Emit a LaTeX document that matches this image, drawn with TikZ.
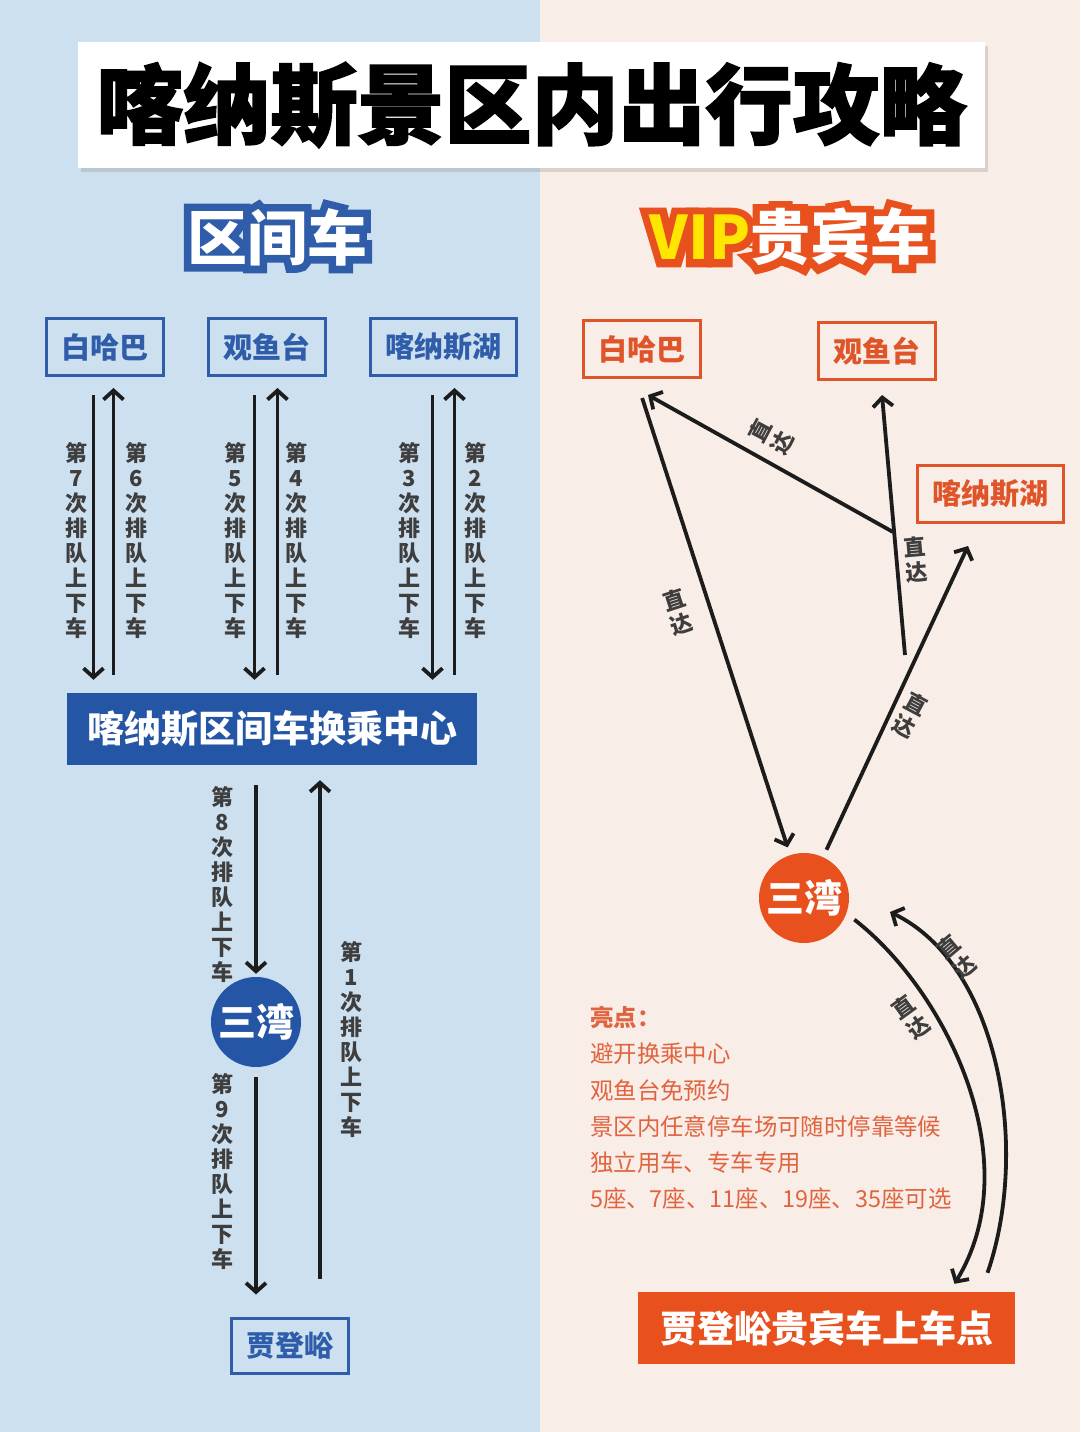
\documentclass[tikz,border=0pt]{standalone}
\usepackage{fontspec}
\usepackage{xcolor}
\usepackage{tikz}
\usetikzlibrary{arrows.meta,calc,shadows,positioning}
\newfontfamily\cjk{Noto Sans CJK SC}
\newfontfamily\cjkol[FakeBold=25]{Noto Sans CJK SC}
\newfontfamily\cjkhv[FakeBold=2]{Noto Sans CJK SC}
\definecolor{bgl}{HTML}{CDE0F0}
\definecolor{bgr}{HTML}{F9EDE7}
\definecolor{bluel}{HTML}{2F5DAA}
\definecolor{bluef}{HTML}{2456A5}
\definecolor{redr}{HTML}{E0542A}
\definecolor{redf}{HTML}{E8501E}
\definecolor{redt}{HTML}{E0643F}
\definecolor{vipy}{HTML}{FFE600}
\definecolor{ink}{HTML}{1C1C1C}
\tikzstyle{arr}=[draw=ink,line width=3.8pt,-{Straight Barb[length=9pt,width=20pt]}]
\tikzstyle{stopl}=[draw=bluel,line width=3pt,text=bluel,inner xsep=15pt,minimum height=57pt,font=\cjk\bfseries\fontsize{29}{29}\selectfont]
\tikzstyle{stopr}=[stopl,draw=redr,text=redr]
\tikzstyle{lbl}=[align=center,inner sep=0pt,text=ink!85,font=\cjk\bfseries\fontsize{22}{25}\selectfont]
\newcommand{\paidui}[1]{第\\#1\\次\\排\\队\\上\\下\\车}
\newcommand{\zhida}{直\\达}

\begin{document}
\begin{tikzpicture}[x=1pt,y=-1pt,font=\cjk]
\fill[bgl] (0,0) rectangle (540,1432);
\fill[bgr] (540,0) rectangle (1080,1432);
\useasboundingbox (0,0) rectangle (1080,1432);
\node[fill=white,minimum width=907pt,minimum height=126pt,drop shadow={opacity=0.25,shadow xshift=3pt,shadow yshift=-4pt},font=\cjkhv\bfseries\fontsize{87}{87}\selectfont](one) at (531.5,105){喀纳斯景区内出行攻略};
\node[text=bluel,font=\cjkol\bfseries\fontsize{60}{60}\selectfont](two) at (277,237){区间车};
\node[text=white,font=\cjk\bfseries\fontsize{60}{60}\selectfont](three) at (277,237){区间车};
\node[text=redf,font=\cjkol\bfseries\fontsize{60}{60}\selectfont](four) at (790,237){VIP贵宾车};
\node[text=white,font=\cjk\bfseries\fontsize{60}{60}\selectfont](five) at (790,237){\textcolor{vipy}{VIP}贵宾车};
% left side
\node[stopl](six) at (104.5,347){白哈巴};
\node[stopl](seven) at (266.5,347){观鱼台};
\node[stopl](eight) at (443.5,347){喀纳斯湖};
\node[fill=bluef,text=white,minimum width=410pt,minimum height=72pt,font=\cjk\bfseries\fontsize{37}{37}\selectfont](nine) at (272,729){喀纳斯区间车换乘中心};
\draw[arr,shorten <=18pt,shorten >=13pt] ([xshift=-11pt]six.south) -- ([xshift=-11pt]nine.north -| six.south);
\draw[arr,shorten <=18pt,shorten >=11pt] ([xshift=9pt]nine.north -| six.south) -- ([xshift=9pt]six.south);
\draw[arr,shorten <=18pt,shorten >=13pt] ([xshift=-12pt]seven.south) -- ([xshift=-12pt]nine.north -| seven.south);
\draw[arr,shorten <=18pt,shorten >=11pt] ([xshift=11pt]nine.north -| seven.south) -- ([xshift=11pt]seven.south);
\draw[arr,shorten <=18pt,shorten >=13pt] ([xshift=-11pt]eight.south) -- ([xshift=-11pt]nine.north -| eight.south);
\draw[arr,shorten <=18pt,shorten >=11pt] ([xshift=11pt]nine.north -| eight.south) -- ([xshift=11pt]eight.south);
\node[lbl](ten) at (76.5,541){\paidui{7}};
\node[lbl](eleven) at (136,541){\paidui{6}};
\node[lbl](twelve) at (235,541){\paidui{5}};
\node[lbl](thirteen) at (296.5,541){\paidui{4}};
\node[lbl](fourteen) at (409,541){\paidui{3}};
\node[lbl](fifteen) at (475,541){\paidui{2}};
\node[circle,fill=bluef,text=white,minimum size=90pt,inner sep=0pt,font=\cjk\bfseries\fontsize{38}{38}\selectfont](sixteen) at (256,1022){三湾};
\node[stopl,minimum height=55pt](seventeen) at (289.5,1345.5){贾登峪};
\draw[arr,shorten <=20pt,shorten >=3pt] (nine.south -| sixteen) -- (sixteen);
\draw[arr,shorten <=10pt,shorten >=22pt] (sixteen) -- (sixteen |- seventeen.north);
\draw[arr,shorten <=38pt,shorten >=15pt] ([xshift=30.5pt]seventeen.north) -- ([xshift=30.5pt]nine.south -| seventeen.north);
\node[lbl](eighteen) at (222,885){\paidui{8}};
\node[lbl](nineteen) at (222,1172){\paidui{9}};
\node[lbl](twenty) at (351,1040){\paidui{1}};
% right side
\node[stopr](twentyone) at (642,349){白哈巴};
\node[stopr](twentytwo) at (877,351){观鱼台};
\node[stopr](twentythree) at (990,494){喀纳斯湖};
\node[circle,fill=redf,text=white,minimum size=90pt,inner sep=0pt,font=\cjk\bfseries\fontsize{38}{38}\selectfont](twentyfour) at (804,898){三湾};
\node[fill=redf,text=white,minimum width=377pt,minimum height=72pt,font=\cjk\bfseries\fontsize{37}{37}\selectfont](twentyfive) at (826.5,1328){贾登峪贵宾车上车点};
\coordinate (jn) at (893,532);
\coordinate (jb) at (905,655);
\draw[arr,shorten <=20pt,shorten >=8pt] ([xshift=-6pt]twentyone.south) -- (twentyfour);
\draw[arr] (jn) -- ([xshift=6pt,yshift=-16pt]twentyone.south);
\draw[arr] (jb) -- ([xshift=5pt,yshift=-14pt]twentytwo.south);
\draw[arr,shorten <=8pt] (twentyfour) -- ([xshift=-22pt,yshift=-22pt]twentythree.south);
\draw[arr,shorten <=10pt] (twentyfour.-20) .. controls (945,990) and (1030,1160) .. ([xshift=128pt,yshift=8pt]twentyfive.north);
\draw[arr] ([xshift=161pt,yshift=19pt]twentyfive.north) .. controls (1030,1150) and (1000,965) .. ([xshift=86pt,yshift=-14pt]twentyfour.center);
\node[lbl,rotate=18](twentysix) at (678,612){\zhida};
\node[lbl,rotate=62](twentyseven) at (771,437){\zhida};
\node[lbl,rotate=5](twentyeight) at (916,560){\zhida};
\node[lbl,rotate=-28](twentynine) at (910,715){\zhida};
\node[lbl,rotate=36](thirty) at (911,1017){\zhida};
\node[lbl,rotate=40](thirtyone) at (957,957){\zhida};
\node[anchor=west,align=left,text=redt,inner sep=0pt,font=\cjk\fontsize{23.4}{36.2}\selectfont](thirtytwo) at (590,1108){{\bfseries 亮点：}\\避开换乘中心\\观鱼台免预约\\景区内任意停车场可随时停靠等候\\独立用车、专车专用\\5座、7座、11座、19座、35座可选};
%\node[draw,circle](x) at (804,898) {};
\end{tikzpicture}
\end{document}
